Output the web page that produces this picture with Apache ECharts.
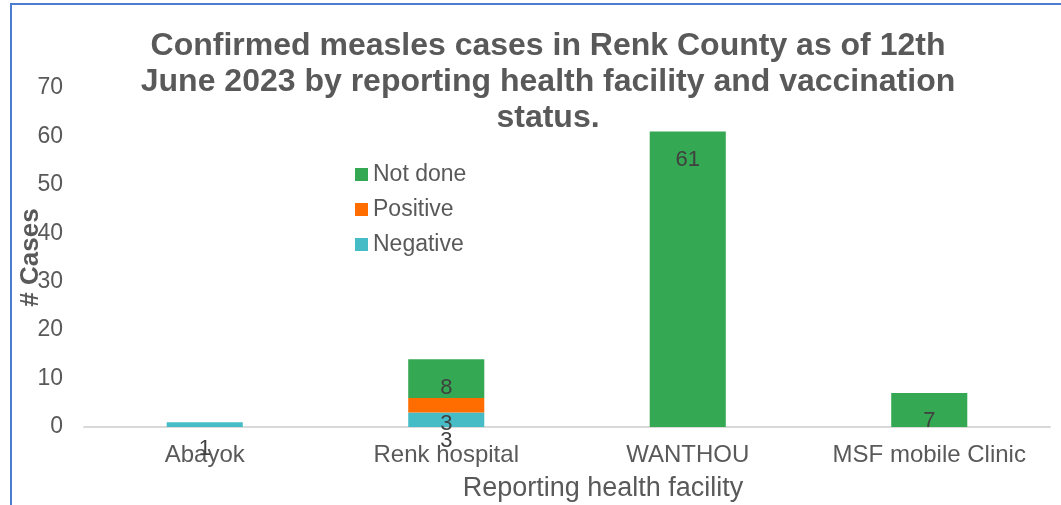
<!DOCTYPE html>
<html>
<head>
<meta charset="utf-8">
<script src="https://cdn.jsdelivr.net/npm/echarts@6/dist/echarts.min.js"></script>
<style>
html,body{margin:0;padding:0;background:#fff;}
#chart{width:1061px;height:505px;}
</style>
</head>
<body>
<div id="chart"></div>
<script>
var categories = ['Abayok', 'Renk hospital', 'WANTHOU', 'MSF mobile Clinic'];
var negative = [1, 3, 0, 0];
var positive = [0, 3, 0, 0];
var notDone = [0, 8, 61, 7];
var yTicks = [0, 10, 20, 30, 40, 50, 60, 70];

var FONT = '"Liberation Sans", Arial, sans-serif';
var LABEL_COLOR = '#404040';

// label placement styles (per category index), kept separate from data
var negLabelStyle = [
  {position: 'bottom', distance: 11},
  {position: 'inside', offset: [0, 4]},
  null, null
];
var posLabelStyle = [
  null,
  {position: 'bottom', distance: 17},
  null, null
];
var ndLabelStyle = [
  null,
  {position: 'inside', offset: [0, 9]},
  {position: 'insideTop', distance: 17},
  {position: 'insideBottom', distance: 0, offset: [0, 5]}
];

function buildItems(values, styles) {
  return values.map(function (v, i) {
    var st = styles[i];
    var item = {value: v};
    if (v && st) {
      item.label = Object.assign({show: true}, st);
    } else {
      item.label = {show: false};
    }
    return item;
  });
}

var labelBase = {
  show: true,
  color: LABEL_COLOR,
  fontSize: 22,
  fontFamily: FONT
};

var chart = echarts.init(document.getElementById('chart'), null, {renderer: 'canvas'});
chart.setOption({
  backgroundColor: '#ffffff',
  animation: false,
  title: {
    text: 'Confirmed measles cases in Renk County as of 12th\nJune 2023 by reporting health facility and vaccination\nstatus.',
    left: 543,
    top: 23,
    textAlign: 'center',
    textStyle: {
      fontFamily: FONT,
      fontSize: 32,
      fontWeight: 'bold',
      color: '#595959',
      lineHeight: 36
    }
  },
  legend: {
    data: ['Not done', 'Positive', 'Negative'],
    orient: 'vertical',
    left: 350,
    top: 158,
    itemWidth: 13,
    itemHeight: 13,
    itemGap: 12,
    icon: 'rect',
    textStyle: {fontFamily: FONT, fontSize: 23, color: '#595959'}
  },
  graphic: [{
    type: 'rect',
    shape: {x: 11, y: 4, width: 1200, height: 700},
    style: {fill: 'none', stroke: '#4a7ccf', lineWidth: 2},
    silent: true,
    z: 100
  }],
  grid: {left: 84, right: 11, top: 88, bottom: 78, containLabel: false, outerBoundsMode: 'none'},
  xAxis: {
    type: 'category',
    data: categories,
    name: 'Reporting health facility',
    nameLocation: 'middle',
    nameGap: 48,
    nameMoveOverlap: false,
    nameTextStyle: {fontFamily: FONT, fontSize: 27, color: '#595959', padding: [0, 0, 0, 72]},
    axisLine: {show: true, lineStyle: {color: '#d9d9d9', width: 2}},
    axisTick: {show: false},
    axisLabel: {fontFamily: FONT, fontSize: 24, color: '#595959', margin: 16, interval: 0, hideOverlap: false}
  },
  yAxis: {
    type: 'value',
    min: yTicks[0],
    max: yTicks[yTicks.length - 1],
    interval: yTicks[1] - yTicks[0],
    name: '# Cases',
    nameLocation: 'middle',
    nameGap: 40,
    nameMoveOverlap: false,
    nameTextStyle: {fontFamily: FONT, fontSize: 26, fontWeight: 'bold', color: '#595959'},
    axisLine: {show: false},
    axisTick: {show: false},
    splitLine: {show: false},
    axisLabel: {fontFamily: FONT, fontSize: 23, color: '#595959', margin: 21, verticalAlign: 'middle', padding: [4, 0, 0, 0]}
  },
  series: [
    {
      name: 'Negative', type: 'bar', stack: 'total', barWidth: '31.5%',
      itemStyle: {color: '#46bdc6'},
      label: labelBase,
      data: buildItems(negative, negLabelStyle)
    },
    {
      name: 'Positive', type: 'bar', stack: 'total', barWidth: '31.5%',
      itemStyle: {color: '#ff6d01'},
      label: labelBase,
      data: buildItems(positive, posLabelStyle)
    },
    {
      name: 'Not done', type: 'bar', stack: 'total', barWidth: '31.5%',
      itemStyle: {color: '#34a853'},
      label: labelBase,
      data: buildItems(notDone, ndLabelStyle)
    }
  ]
});
</script>
</body>
</html>
